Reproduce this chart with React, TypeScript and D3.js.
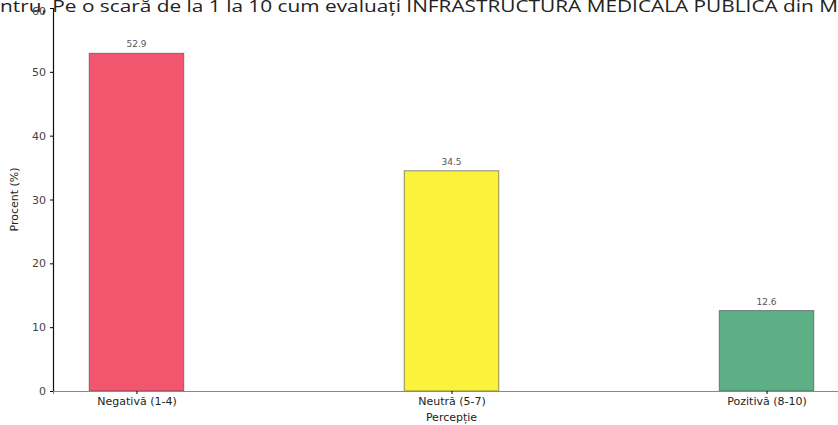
import { useEffect, useRef } from "react";
import * as d3 from "d3";

const categories = ["Negativă (1-4)", "Neutră (5-7)", "Pozitivă (8-10)"];
const values = [52.9, 34.5, 12.6];
const valueLabels = ["52.9", "34.5", "12.6"];
const colors = ["#f2566f", "#fbf23c", "#5daf85"];
const yTicks = [0, 10, 20, 30, 40, 50, 60];
const title =
  "ntru, Pe o scară de la 1 la 10 cum evaluați INFRASTRUCTURA MEDICALĂ PUBLICĂ din M";

export default function App() {
  const svgRef = useRef<SVGSVGElement | null>(null);

  useEffect(() => {
    if (!svgRef.current) return;
    const width = 838;
    const height = 425;
    const margin = { top: 8, right: -12, bottom: 34, left: 53 };
    const font = "DejaVu Sans, sans-serif";

    const svg = d3.select(svgRef.current);
    svg.selectAll("*").remove();

    // matplotlib style: width 0.3, margins 5%
    const barW = 0.3;
    const lo = -barW / 2 - 0.115;
    const hi = categories.length - 1 + barW / 2 + 0.115;
    const x = d3
      .scaleLinear()
      .domain([lo, hi])
      .range([margin.left, width - margin.right]);
    const y = d3
      .scaleLinear()
      .domain([0, 60])
      .range([height - margin.bottom, margin.top]);

    // chart title (cut off in the scan)
    svg
      .append("text")
      .attr("x", 0)
      .attr("y", 12)
      .attr("font-family", "Open Sans, sans-serif")
      .attr("font-size", 16)
      .attr("fill", "#222")
      .attr("textLength", 838)
      .attr("lengthAdjust", "spacingAndGlyphs")
      .text(title);

    // bars
    svg
      .append("g")
      .selectAll("rect")
      .data(values)
      .join("rect")
      .attr("x", (_, i) => x(i - barW / 2))
      .attr("y", (d) => y(d))
      .attr("width", x(barW) - x(0))
      .attr("height", (d) => y(0) - y(d))
      .attr("fill", (_, i) => colors[i])
      .attr("stroke", "#444")
      .attr("stroke-opacity", 0.6)
      .attr("stroke-width", 1);

    // value labels
    svg
      .append("g")
      .selectAll("text")
      .data(values)
      .join("text")
      .attr("x", (_, i) => x(i))
      .attr("y", (d) => y(d) - 6)
      .attr("text-anchor", "middle")
      .attr("font-family", font)
      .attr("font-size", 9)
      .attr("fill", "#555")
      .text((_, i) => valueLabels[i]);

    // axes
    const yAxis = svg
      .append("g")
      .attr("transform", `translate(${margin.left},0)`)
      .call(
        d3
          .axisLeft(y)
          .tickValues(yTicks)
          .tickSize(3)
          .tickPadding(4)
      );
    yAxis.select(".domain").attr("stroke", "#111").attr("stroke-width", 1.2);
    yAxis
      .selectAll("text")
      .attr("font-family", font)
      .attr("font-size", 11)
      .attr("fill", "#444");
    yAxis
      .selectAll<SVGTextElement, number>("text")
      .filter((d) => d === 60)
      .attr("dy", "0.55em");

    const xAxis = svg
      .append("g")
      .attr("transform", `translate(0,${y(0)})`)
      .call(
        d3
          .axisBottom(x)
          .tickValues(d3.range(categories.length))
          .tickFormat((_, i) => categories[i])
          .tickSize(3)
          .tickPadding(3)
      );
    xAxis.select(".domain").attr("stroke", "#888").attr("stroke-width", 1.2);
    xAxis
      .selectAll("text")
      .attr("font-family", font)
      .attr("font-size", 11)
      .attr("fill", "#222");

    // axis titles
    svg
      .append("text")
      .attr("x", (margin.left + width - margin.right) / 2)
      .attr("y", height - 4)
      .attr("text-anchor", "middle")
      .attr("font-family", font)
      .attr("font-size", 11)
      .attr("fill", "#222")
      .text("Percepție");

    svg
      .append("text")
      .attr("transform", "rotate(-90)")
      .attr("x", -(y(30)))
      .attr("y", 18)
      .attr("text-anchor", "middle")
      .attr("font-family", font)
      .attr("font-size", 11)
      .attr("fill", "#222")
      .text("Procent (%)");
  }, []);

  return (
    <svg
      ref={svgRef}
      width={838}
      height={425}
      style={{ position: "absolute", left: 0, top: 0, background: "#fff" }}
    />
  );
}
